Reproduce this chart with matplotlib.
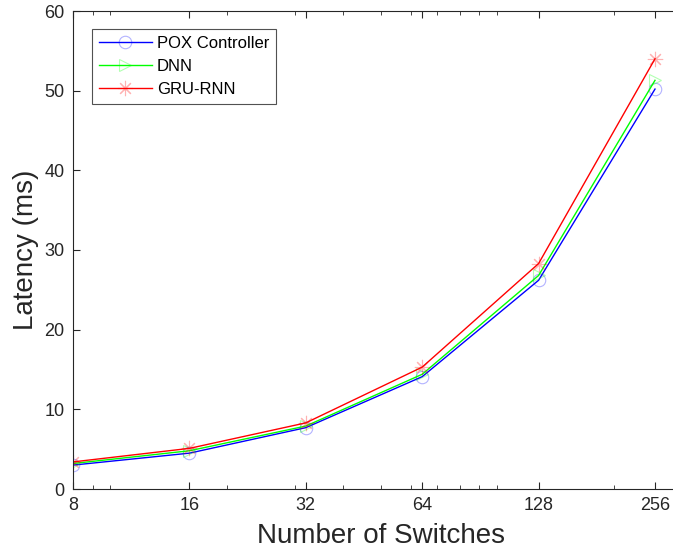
import matplotlib
matplotlib.use("Agg")
import matplotlib.pyplot as plt
from matplotlib.ticker import FixedLocator, NullFormatter, FixedFormatter

plt.rcParams['font.family'] = ['Liberation Sans', 'DejaVu Sans']

switches = [8, 16, 32, 64, 128, 256]
pox = [3.0, 4.5, 7.7, 14.1, 26.2, 50.2]
dnn = [3.2, 4.8, 7.9, 14.4, 26.8, 51.3]
gru = [3.4, 5.1, 8.3, 15.3, 28.3, 54.0]
labels = ['POX Controller', 'DNN', 'GRU-RNN']
xticks = [8, 16, 32, 64, 128, 256]
xminor = [9, 10, 20, 30, 40, 50, 60, 70, 80, 90, 100, 200]
yticks = [0, 10, 20, 30, 40, 50, 60]

fig = plt.figure(figsize=(6.73, 5.56), dpi=100)
ax = fig.add_axes([73/673, 1-489/556, (690-73)/673, (489-11)/556])

series = [
    (pox, (0, 0, 1), 'o', 9),
    (dnn, (0, 1, 0), '>', 9),
    (gru, (1, 0, 0), (8, 2, 0), 11),
]
for (vals, col, mk, ms), lab in zip(series, labels):
    ax.plot(switches, vals, color=col, lw=1.0, marker=mk, markersize=ms,
            markerfacecolor='none', markeredgecolor=col + (0.3,), markeredgewidth=0.8,
            label=lab)

ax.set_xscale('log', base=2)
ax.set_xlim(8, 8 * 2 ** ((690 - 73) / 116.4))
ax.set_ylim(0, 60)
ax.xaxis.set_major_locator(FixedLocator(xticks))
ax.xaxis.set_major_formatter(FixedFormatter([str(v) for v in xticks]))
ax.xaxis.set_minor_locator(FixedLocator(xminor))
ax.xaxis.set_minor_formatter(NullFormatter())
ax.set_yticks(yticks)

ax.tick_params(which='both', direction='in', top=True, right=False, colors='#262626',
               labelcolor='#262626', labelsize=13, pad=6)
ax.tick_params(which='major', length=5)
ax.tick_params(which='minor', length=3)
for sp in ax.spines.values():
    sp.set_color('#262626')
    sp.set_linewidth(0.8)
ax.spines['right'].set_visible(False)

ax.set_xlabel('Number of Switches', fontsize=20, color='#262626', labelpad=6)
ax.set_ylabel('Latency (ms)', fontsize=20, color='#262626', labelpad=4)

leg = ax.legend(loc='upper left', bbox_to_anchor=(92/673, 1-29/556), bbox_transform=fig.transFigure,
                borderaxespad=0, fontsize=12, frameon=True, fancybox=False, edgecolor='#262626',
                handlelength=3.2, borderpad=0.4, labelspacing=0.5, handletextpad=0.3)
leg.get_frame().set_linewidth(0.8)

fig.savefig('out.png', dpi=100)
